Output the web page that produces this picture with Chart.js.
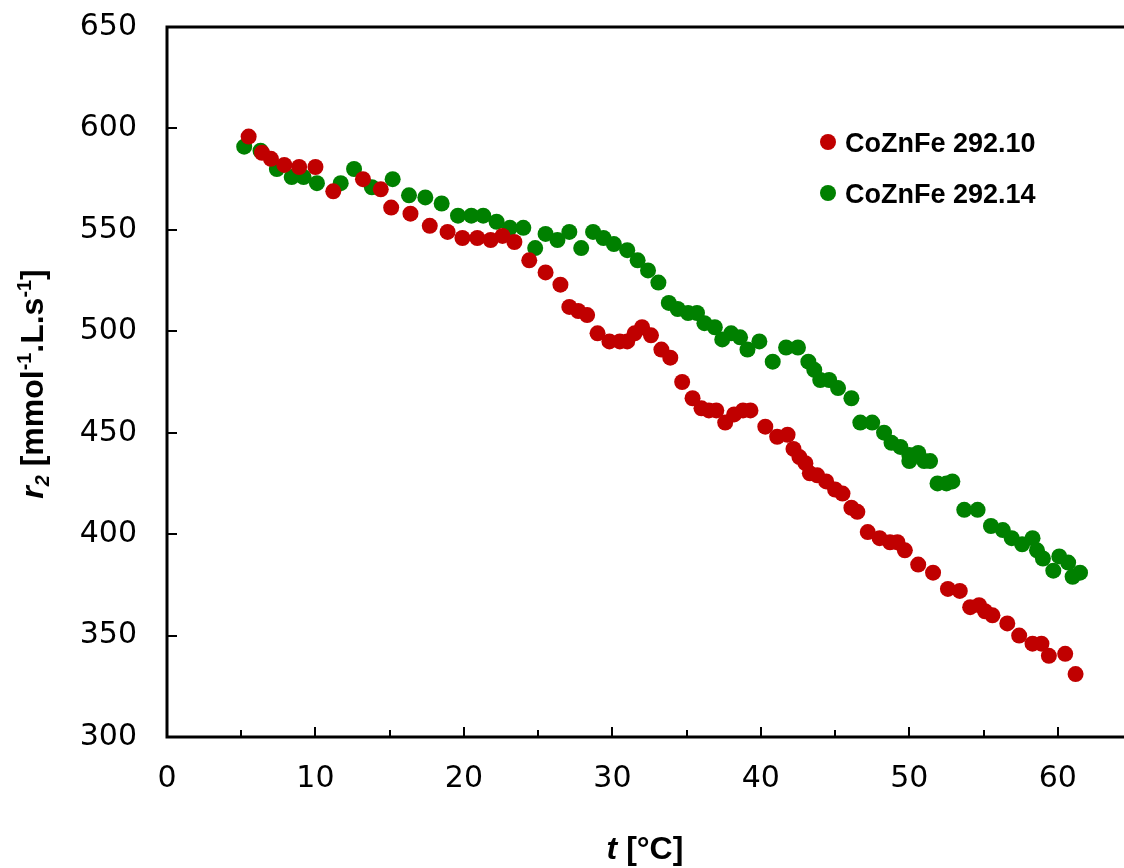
<!DOCTYPE html>
<html>
<head>
<meta charset="utf-8">
<script src="https://cdn.jsdelivr.net/npm/chart.js@4"></script>
<style>
  html, body { margin: 0; padding: 0; background: #fff; overflow: hidden; }
  canvas { display: block; }
</style>
</head>
<body>
<canvas id="chart" width="1140" height="868"></canvas>
<script>
// temperature (°C) and r2 values
const tempA = [5.5, 6.4, 7.0, 7.9, 8.9, 10.0, 11.2, 13.2, 14.4, 15.1, 16.4, 17.7, 18.9, 19.9, 20.9, 21.8, 22.6, 23.4,
  24.4, 25.5, 26.5, 27.1, 27.7, 28.3, 29.0, 29.8, 30.5, 31.0, 31.5, 32.0, 32.6, 33.3, 33.9, 34.7, 35.4, 36.0, 36.5,
  37.0, 37.6, 38.2, 38.8, 39.3, 40.3, 41.1, 41.8, 42.2, 42.6, 43.0, 43.3, 43.8, 44.4, 45.0, 45.5, 46.1, 46.5, 47.2,
  48.0, 48.7, 49.2, 49.7, 50.6, 51.6, 52.6, 53.4, 54.1, 54.7, 55.1, 55.6, 56.6, 57.4, 58.3, 58.9, 59.4, 60.5, 61.2];
const r2A = [596, 588, 585, 582, 581, 581, 569, 575, 570, 561, 558, 552, 549, 546, 546, 545, 547, 544,
  535, 529, 523, 512, 510, 508, 499, 495, 495, 495, 499, 502, 498, 491, 487, 475, 467, 462, 461,
  461, 455, 459, 461, 461, 453, 448, 449, 442, 438, 435, 430, 429, 426, 422, 420, 413, 411, 401,
  398, 396, 396, 392, 385, 381, 373, 372, 364, 365, 362, 360, 356, 350, 346, 346, 340, 341, 331];

const tempB = [5.2, 6.3, 7.4, 8.4, 9.2, 10.1, 11.7, 12.6, 13.8, 15.2, 16.3, 17.4, 18.5, 19.6, 20.5, 21.3, 22.2, 23.1,
  24.0, 24.8, 25.5, 26.3, 27.1, 27.9, 28.7, 29.4, 30.1, 31.0, 31.7, 32.4, 33.1, 33.8, 34.4, 35.1, 35.7, 36.2, 36.9,
  37.4, 38.0, 38.6, 39.1, 39.9, 40.8, 41.7, 42.5, 43.2, 43.6, 44.0, 44.6, 45.2, 46.1, 46.7, 47.5, 48.3, 48.8, 49.4,
  50.0, 50.0, 50.6, 51.0, 51.4, 51.9, 52.5, 52.9, 53.7, 54.6, 55.5, 56.3, 56.9, 57.6, 58.3, 58.6, 59.0, 59.7, 60.1,
  60.7, 61.0, 61.5];
const r2B = [591, 589, 580, 576, 576, 573, 573, 580, 571, 575, 567, 566, 563, 557, 557, 557, 554, 551,
  551, 541, 548, 545, 549, 541, 549, 546, 543, 540, 535, 530, 524, 514, 511, 509, 509, 504, 502,
  496, 499, 497, 491, 495, 485, 492, 492, 485, 481, 476, 476, 472, 467, 455, 455, 450, 445, 443,
  439, 436, 440, 436, 436, 425, 425, 426, 412, 412, 404, 402, 398, 395, 398, 392, 388, 382, 389,
  386, 379, 381];

const seriesNames = ['CoZnFe 292.10', 'CoZnFe 292.14'];
const seriesColors = ['#c00000', '#008000'];

const xTicks = [0, 10, 20, 30, 40, 50, 60];

const toPoints = (xs, ys) => xs.map((x, i) => ({ x: x, y: ys[i] }));

// draws a list of text runs (normal / sub / sup) starting at x, baseline y
function drawRuns(ctx, runs, size, x, y) {
  runs.forEach(r => {
    const s = r.sub || r.sup ? size * 0.62 : size;
    ctx.font = (r.italic ? 'italic ' : '') + 'bold ' + s + 'px "Liberation Sans", Arial, sans-serif';
    let dy = 0;
    if (r.sub) dy = size * 0.18;
    if (r.sup) dy = -size * 0.36;
    ctx.fillText(r.text, x, y + dy);
    x += ctx.measureText(r.text).width;
  });
}
function runsWidth(ctx, runs, size) {
  let w = 0;
  runs.forEach(r => {
    const s = r.sub || r.sup ? size * 0.62 : size;
    ctx.font = (r.italic ? 'italic ' : '') + 'bold ' + s + 'px "Liberation Sans", Arial, sans-serif';
    w += ctx.measureText(r.text).width;
  });
  return w;
}

const decorations = {
  id: 'decorations',
  afterDraw(chart) {
    const ctx = chart.ctx;
    const area = chart.chartArea;
    const xs = chart.scales.x;
    const ys = chart.scales.y;
    ctx.save();

    // frame
    ctx.strokeStyle = '#000';
    ctx.lineWidth = 3;
    ctx.strokeRect(area.left, area.top, area.right - area.left, area.bottom - area.top);

    // inward ticks
    ctx.lineWidth = 2;
    ctx.beginPath();
    for (let v = 5; v < 65; v += 5) {
      const px = Math.round(xs.getPixelForValue(v));
      const len = v % 10 === 0 ? 10 : 7;
      ctx.moveTo(px, area.bottom);
      ctx.lineTo(px, area.bottom - len);
    }
    for (let v = 350; v < 650; v += 50) {
      const py = Math.round(ys.getPixelForValue(v));
      ctx.moveTo(area.left, py);
      ctx.lineTo(area.left + 10, py);
    }
    ctx.stroke();

    // legend inside the plot
    ctx.textBaseline = 'alphabetic';
    ctx.textAlign = 'left';
    const legendY = [142, 193];
    chart.data.datasets.forEach((ds, i) => {
      ctx.fillStyle = ds.backgroundColor;
      ctx.beginPath();
      ctx.arc(828, legendY[i], 8, 0, Math.PI * 2);
      ctx.fill();
      ctx.fillStyle = '#000';
      ctx.font = 'bold 27px "Liberation Sans", Arial, sans-serif';
      ctx.fillText(ds.label, 845, legendY[i] + 10);
    });

    // x title
    const xRuns = [{ text: 't', italic: true }, { text: ' [°C]' }];
    const xSize = 32;
    const xw = runsWidth(ctx, xRuns, xSize);
    drawRuns(ctx, xRuns, xSize, 645 - xw / 2, 859);

    // y title (rotated)
    const yRuns = [
      { text: 'r', italic: true }, { text: '2', italic: true, sub: true },
      { text: ' [mmol' }, { text: '-1', sup: true }, { text: '.L.s' }, { text: '-1', sup: true }, { text: ']' }
    ];
    const ySize = 32;
    const yw = runsWidth(ctx, yRuns, ySize);
    ctx.translate(43, 384);
    ctx.rotate(-Math.PI / 2);
    drawRuns(ctx, yRuns, ySize, -yw / 2, 0);

    ctx.restore();
  }
};

new Chart(document.getElementById('chart'), {
  type: 'scatter',
  data: {
    datasets: [
      {
        label: seriesNames[0],
        data: toPoints(tempA, r2A),
        backgroundColor: seriesColors[0],
        borderColor: seriesColors[0],
        pointRadius: 8,
        pointBorderWidth: 0
      },
      {
        label: seriesNames[1],
        data: toPoints(tempB, r2B),
        backgroundColor: seriesColors[1],
        borderColor: seriesColors[1],
        pointRadius: 8,
        pointBorderWidth: 0
      }
    ]
  },
  options: {
    responsive: false,
    animation: false,
    layout: { padding: { top: 27, right: 8, left: 0, bottom: 0 } },
    plugins: {
      legend: { display: false },
      tooltip: { enabled: false }
    },
    scales: {
      x: {
        type: 'linear',
        min: 0,
        max: 65,
        afterBuildTicks: scale => { scale.ticks = xTicks.map(v => ({ value: v })); },
        afterFit: scale => {
          scale.height = 131;
          scale.paddingLeft = 0;
          scale.paddingRight = 0;
        },
        grid: { display: false, drawTicks: false },
        border: { display: false },
        ticks: {
          padding: 24,
          color: '#000',
          font: { family: '"DejaVu Sans", Verdana, sans-serif', size: 30 }
        }
      },
      y: {
        min: 300,
        max: 650,
        afterFit: scale => {
          scale.width = 167;
          scale.paddingTop = 0;
          scale.paddingBottom = 0;
        },
        grid: { display: false, drawTicks: false },
        border: { display: false },
        ticks: {
          stepSize: 50,
          padding: 30,
          color: '#000',
          font: { family: '"DejaVu Sans", Verdana, sans-serif', size: 30 }
        }
      }
    }
  },
  plugins: [decorations]
});
</script>
</body>
</html>
